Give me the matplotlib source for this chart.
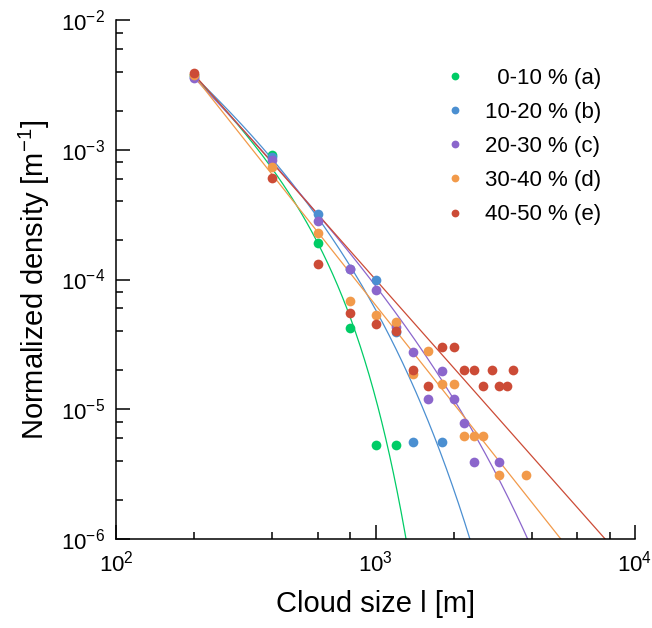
import numpy as np
import matplotlib
matplotlib.use("Agg")
import matplotlib.pyplot as plt
from matplotlib.ticker import LogLocator, NullFormatter

plt.rcParams['font.family'] = ['Liberation Sans', 'DejaVu Sans']
plt.rcParams['mathtext.fontset'] = 'custom'
plt.rcParams['mathtext.rm'] = 'Liberation Sans'

# clases de fraccion de nubes
etiquetas = ['  0-10 % (a)', '10-20 % (b)', '20-30 % (c)', '30-40 % (d)', '40-50 % (e)']
colores = ['#00cc66', '#4b8fd1', '#8b66cc', '#f29a4a', '#cc4b36']

# puntos
x_a = [200, 400, 600, 800, 1000, 1200]
y_a = [3.75e-3, 9.1e-4, 1.9e-4, 4.2e-5, 5.3e-6, 5.3e-6]

x_b = [200, 400, 600, 800, 1000, 1200, 1400, 1800]
y_b = [3.65e-3, 8.8e-4, 3.2e-4, 1.2e-4, 1.0e-4, 3.97e-5, 5.6e-6, 5.6e-6]

x_c = [200, 400, 600, 800, 1000, 1200, 1400, 1600, 1800, 2000, 2200, 2400, 3000]
y_c = [3.55e-3, 8.4e-4, 2.8e-4, 1.2e-4, 8.3e-5, 4.3e-5, 2.78e-5, 1.19e-5,
       1.98e-5, 1.19e-5, 7.9e-6, 3.94e-6, 3.94e-6]

x_d = [200, 400, 600, 800, 1000, 1200, 1400, 1600, 1800, 2000, 2200, 2400,
       2600, 3000, 3800]
y_d = [3.75e-3, 7.4e-4, 2.27e-4, 6.87e-5, 5.3e-5, 4.68e-5, 1.86e-5, 2.81e-5,
       1.56e-5, 1.56e-5, 6.25e-6, 6.25e-6, 6.25e-6, 3.11e-6, 3.11e-6]

x_e = [200, 400, 600, 800, 1000, 1200, 1400, 1600, 1800, 2000, 2200, 2400,
       2600, 2800, 3000, 3200, 3400]
y_e = [3.9e-3, 6.1e-4, 1.31e-4, 5.52e-5, 4.52e-5, 4.03e-5, 2.01e-5, 1.51e-5,
       3.03e-5, 3.03e-5, 2.01e-5, 2.01e-5, 1.51e-5, 2.01e-5, 1.51e-5, 1.51e-5, 2.01e-5]

# ajustes: y = y0 * (l/200)^-b * exp(-((l/L)^p - (200/L)^p))
ajuste_y0 = [3.7e-3, 3.7e-3, 3.6e-3, 3.7e-3, 3.8e-3]
ajuste_b = [1.895, 1.51, 1.98, 2.525, 2.26]
ajuste_L = [600.8, 467.0, 1572.0, np.inf, np.inf]
ajuste_p = [2, 1, 1, 1, 1]

xs = [x_a, x_b, x_c, x_d, x_e]
ys = [y_a, y_b, y_c, y_d, y_e]

fig = plt.figure(figsize=(6.52, 6.28), dpi=100)
ax = fig.add_axes([116/652, 1 - 539/628, 519/652, 519/628])

l = np.geomspace(200, 10000, 800)
for i in range(5):
    L, p = ajuste_L[i], ajuste_p[i]
    curva = ajuste_y0[i] * (l/200.0)**(-ajuste_b[i]) * np.exp(-((l/L)**p - (200.0/L)**p))
    ax.plot(l, curva, color=colores[i], lw=0.9, zorder=2)

for i in range(5):
    ax.plot(xs[i], ys[i], 'o', color=colores[i], ms=7, mew=0,
            label=etiquetas[i], zorder=3)

ax.set_xscale('log')
ax.set_yscale('log')
ax.set_xlim(100, 10000)
ax.set_ylim(1e-6, 1e-2)

ax.spines['top'].set_visible(False)
ax.spines['right'].set_visible(False)
ax.spines['left'].set_linewidth(1.1)
ax.spines['bottom'].set_linewidth(1.1)

for eje in [ax.xaxis, ax.yaxis]:
    eje.set_major_locator(LogLocator(base=10, numticks=10))
    eje.set_minor_locator(LogLocator(base=10, subs=[2, 4, 6, 8], numticks=10))
    eje.set_minor_formatter(NullFormatter())

ax.tick_params(which='both', direction='in', top=False, right=False, width=1.1)
ax.tick_params(which='major', length=10, labelsize=16, pad=8)
ax.tick_params(which='minor', length=5)

ax.set_xlabel('Cloud size l [m]', fontsize=21, labelpad=10)
ax.set_ylabel('Normalized density [m$^{-1}$]', fontsize=21, labelpad=6)

ax.legend(loc='upper left', bbox_to_anchor=(0.6318, 0.9077), frameon=False,
          fontsize=16, markerscale=0.8, handlelength=1.0, handletextpad=0.85,
          labelspacing=0.59, borderpad=0, borderaxespad=0)

fig.savefig('out.png', dpi=100)
